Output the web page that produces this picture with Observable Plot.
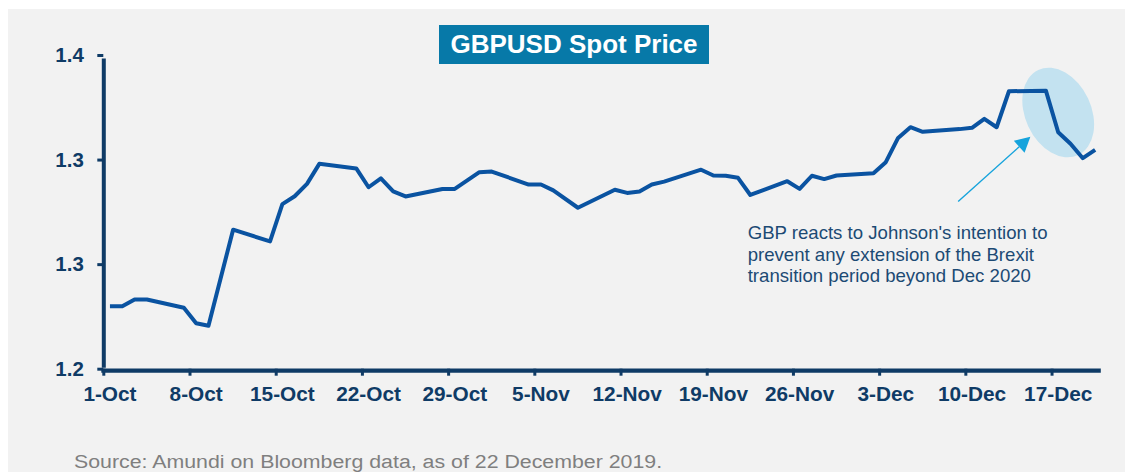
<!DOCTYPE html>
<html><head><meta charset="utf-8">
<script src="https://cdn.jsdelivr.net/npm/d3@7"></script>
<script src="https://cdn.jsdelivr.net/npm/@observablehq/plot@0.6"></script>
<style>
html,body{margin:0;padding:0;background:#fff;}
#wrap{position:relative;width:1125px;height:472px;overflow:hidden;font-family:"Liberation Sans",Arial,sans-serif;}
#panel{position:absolute;left:8px;top:9px;right:0;bottom:0;background:#f2f2f2;}
#chart{position:absolute;left:0;top:0;}
#title{position:absolute;left:439px;top:25px;width:270px;height:39px;line-height:39px;background:#0779a8;color:#fff;font-weight:bold;font-size:26px;text-align:center;white-space:nowrap;}
#caption{position:absolute;left:74px;top:451.5px;font-size:18px;line-height:20px;color:#7f7f7f;white-space:nowrap;transform:scaleX(1.185);transform-origin:0 0;}
</style></head>
<body><div id="wrap"><div id="panel"></div><div id="chart"></div><div id="title"></div><div id="caption"></div></div>
<script>
// ---- data ----
const dates = [
  "2019-10-01","2019-10-02","2019-10-03","2019-10-04","2019-10-07","2019-10-08","2019-10-09","2019-10-11",
  "2019-10-14","2019-10-15","2019-10-16","2019-10-17","2019-10-18","2019-10-21","2019-10-22","2019-10-23",
  "2019-10-24","2019-10-25","2019-10-28","2019-10-29","2019-10-31","2019-11-01","2019-11-04","2019-11-05",
  "2019-11-06","2019-11-08","2019-11-11","2019-11-12","2019-11-13","2019-11-14","2019-11-15","2019-11-18",
  "2019-11-19","2019-11-20","2019-11-21","2019-11-22","2019-11-25","2019-11-26","2019-11-27","2019-11-28",
  "2019-11-29","2019-12-02","2019-12-03","2019-12-04","2019-12-05","2019-12-06","2019-12-09","2019-12-10",
  "2019-12-11","2019-12-12","2019-12-13","2019-12-16","2019-12-17","2019-12-18","2019-12-19","2019-12-20"
];
const values = [
  1.2301,1.2301,1.2333,1.2333,1.2294,1.2220,1.2208,1.2667,
  1.2611,1.2789,1.2827,1.2886,1.2982,1.2960,1.2870,1.2913,
  1.2850,1.2826,1.2862,1.2862,1.2942,1.2945,1.2883,1.2883,
  1.2855,1.2772,1.2858,1.2843,1.2850,1.2883,1.2897,1.2954,
  1.2926,1.2925,1.2915,1.2833,1.2899,1.2862,1.2925,1.2909,
  1.2926,1.2937,1.2990,1.3106,1.3157,1.3135,1.3148,1.3154,
  1.3197,1.3157,1.3329,1.3332,1.3133,1.3078,1.3009,1.3049
];
const xDomain = ["2019-10-01", "2019-12-21"];
const xTickDates = ["2019-10-01","2019-10-08","2019-10-15","2019-10-22","2019-10-29","2019-11-05",
                    "2019-11-12","2019-11-19","2019-11-26","2019-12-03","2019-12-10","2019-12-17"];
const xTickLabels = ["1-Oct","8-Oct","15-Oct","22-Oct","29-Oct","5-Nov","12-Nov","19-Nov","26-Nov","3-Dec","10-Dec","17-Dec"];
const yDomain = [1.2, 1.35];
const yTicks = [1.2, 1.25, 1.3, 1.35];
const yTickLabels = ["1.2", "1.3", "1.3", "1.4"];
const titleText = "GBPUSD Spot Price";
const captionText = "Source: Amundi on Bloomberg data, as of 22 December 2019.";
const annotationLines = ["GBP reacts to Johnson's intention to", "prevent any extension of the Brexit", "transition period beyond Dec 2020"];
const annotationAt = ["2019-11-22T06:50Z", 1.2693];
const highlightAt = ["2019-12-17T13:00Z", 1.3225];
const arrowFrom = ["2019-12-09T10:00Z", 1.2799];
const arrowTo = ["2019-12-15T06:45Z", 1.3109];

// ---- build ----
const HALF_DAY = 12 * 3600 * 1000;
const utc = s => new Date(s.length === 10 ? s + "T00:00Z" : s);
const series = dates.map((d, i) => ({date: new Date(utc(d).getTime() + HALF_DAY), value: values[i]}));
const tickMidnights = xTickDates.map(utc);
const tickNoons = tickMidnights.map(d => new Date(d.getTime() + HALF_DAY));
const labelByTime = new Map(tickNoons.map((d, i) => [d.getTime(), xTickLabels[i]]));

const NAVY = "#0f3b66";
const LINE = "#0a53a1";

function highlight(index, scales) {
  const g = d3.create("svg:g");
  const cx = scales.x(utc(highlightAt[0])), cy = scales.y(highlightAt[1]);
  g.append("ellipse").attr("rx", 33).attr("ry", 47)
    .attr("transform", `translate(${cx},${cy}) rotate(-25)`)
    .attr("fill", "#c3e2f0");
  return g.node();
}
function arrow(index, scales) {
  const g = d3.create("svg:g");
  const x1 = scales.x(utc(arrowFrom[0])), y1 = scales.y(arrowFrom[1]);
  const x2 = scales.x(utc(arrowTo[0])), y2 = scales.y(arrowTo[1]);
  const a = Math.atan2(y2 - y1, x2 - x1), L = 15, W = 8;
  const bx = x2 - L * Math.cos(a), by = y2 - L * Math.sin(a);
  g.append("line").attr("x1", x1).attr("y1", y1).attr("x2", bx).attr("y2", by)
    .attr("stroke", "#15a3dc").attr("stroke-width", 1.4);
  g.append("polygon")
    .attr("points", [[x2, y2], [bx - W * Math.sin(a), by + W * Math.cos(a)], [bx + W * Math.sin(a), by - W * Math.cos(a)]].join(" "))
    .attr("fill", "#15a3dc");
  return g.node();
}

const chart = Plot.plot({
  width: 1125,
  height: 472,
  marginLeft: 103.3,
  marginRight: 24.2,
  marginTop: 55,
  marginBottom: 103.3,
  style: {background: "transparent", color: NAVY, fontFamily: "'Liberation Sans', Arial, sans-serif", fontSize: "20.5px"},
  x: {type: "utc", domain: xDomain.map(utc), range: [103.3, 1100.8]},
  y: {domain: yDomain, range: [368.7, 55]},
  marks: [
    highlight,
    Plot.ruleX([utc(xDomain[0])], {y1: yDomain[0], y2: yDomain[1], stroke: NAVY, strokeWidth: 4, insetBottom: -3.5, insetTop: -1}),
    Plot.ruleY([yDomain[0]], {x1: utc(xDomain[0]), x2: utc(xDomain[1]), stroke: NAVY, strokeWidth: 4.3, dy: 1.5, insetLeft: -2}),
    Plot.axisY({ticks: yTicks, tickSize: 6, tickPadding: 14, strokeWidth: 3, fontWeight: "bold", fontSize: 20.5,
      tickFormat: d => yTickLabels[yTicks.indexOf(d)], label: null}),
    Plot.axisX({ticks: tickMidnights, tickSize: 7, strokeWidth: 3, tickFormat: () => "", label: null, dy: 0}),
    Plot.axisX({ticks: tickNoons, tickSize: 0, tickPadding: 17, fontWeight: "bold", fontSize: 20.8,
      tickFormat: d => labelByTime.get(d.getTime()), label: null}),
    Plot.lineY(series, {x: "date", y: "value", stroke: LINE, strokeWidth: 4, strokeLinejoin: "round", strokeLinecap: "butt"}),
    arrow,
    Plot.text([annotationLines.join("\n")], {x: () => utc(annotationAt[0]), y: () => annotationAt[1],
      text: d => d, textAnchor: "start", lineAnchor: "top", lineHeight: 1.145, fontSize: 18.6, fill: "#1c4a74"})
  ]
});
document.getElementById("chart").appendChild(chart);
document.getElementById("title").textContent = titleText;
document.getElementById("caption").textContent = captionText;
</script>
</body></html>
